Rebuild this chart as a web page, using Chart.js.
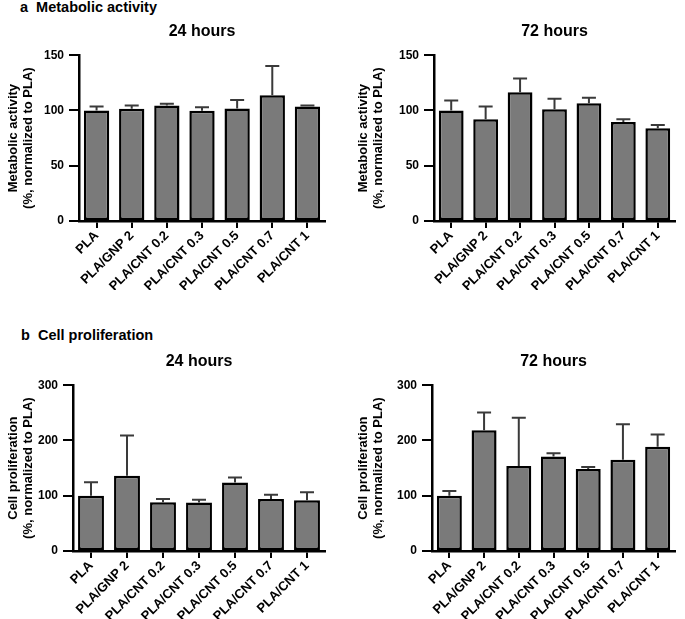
<!DOCTYPE html>
<html>
<head>
<meta charset="utf-8">
<script src="https://cdn.jsdelivr.net/npm/chart.js@4.4.1/dist/chart.umd.min.js"></script>
<style>
  body { margin: 0; background: #fff; font-family: "Liberation Sans", Arial, sans-serif; }
  #wrap { position: relative; width: 685px; height: 619px; }
  canvas { position: absolute; }
  .lbl { position: absolute; font-weight: bold; font-size: 14.5px; color: #000; white-space: pre; }
</style>
</head>
<body>
<div id="wrap">
  <div class="lbl" style="left:20px;top:-1px">a  Metabolic activity</div>
  <div class="lbl" style="left:21px;top:327px">b  Cell proliferation</div>
  <canvas id="c1" width="335" height="271" style="left:0;top:19px"></canvas>
  <canvas id="c2" width="335" height="271" style="left:350px;top:19px"></canvas>
  <canvas id="c3" width="335" height="271" style="left:0;top:349px"></canvas>
  <canvas id="c4" width="335" height="271" style="left:350px;top:349px"></canvas>
</div>
<script>
// groups
const groups = ['PLA', 'PLA/GNP 2', 'PLA/CNT 0.2', 'PLA/CNT 0.3', 'PLA/CNT 0.5', 'PLA/CNT 0.7', 'PLA/CNT 1']

// metabolic activity (% of PLA)
const meta24 = [100, 101.5, 104.5, 99.7, 101.8, 113.8, 103.6]
const meta24Err = [3.6, 3, 1.5, 3.3, 7.6, 26.5, 1]
const meta72 = [100, 92, 116.5, 101, 106.5, 89.5, 83.8]
const meta72Err = [9, 11.5, 12.5, 9.5, 5, 2.5, 3]

// cell proliferation (% of PLA)
const prol24 = [100, 136, 88, 87.6, 124, 94, 92]
const prol24Err = [24.5, 73, 6, 5, 9, 8, 14.5]
const prol72 = [100, 218.6, 154, 171, 148.5, 165, 188.6]
const prol72Err = [8.5, 32, 87, 6, 3.5, 64.5, 22]

const metaTicks = [0, 50, 100, 150]
const prolTicks = [0, 100, 200, 300]

Chart.defaults.font.family = '"Liberation Sans", Arial, sans-serif'
Chart.defaults.color = '#000'

// upper error bars, drawn from bar top
const errorBars = {
    id: 'errorBars',
    afterDatasetsDraw(chart) {
        const ctx = chart.ctx
        const ys = chart.scales.y
        const ds = chart.data.datasets[0]
        chart.getDatasetMeta(0).data.forEach((bar, i) => {
            const top = ys.getPixelForValue(ds.data[i] + ds.err[i])
            const base = ys.getPixelForValue(ds.data[i])
            ctx.save()
            ctx.strokeStyle = '#3a3a3a'
            ctx.lineWidth = 2
            ctx.beginPath()
            ctx.moveTo(bar.x, base)
            ctx.lineTo(bar.x, top)
            ctx.moveTo(bar.x - 7, top)
            ctx.lineTo(bar.x + 7, top)
            ctx.stroke()
            ctx.restore()
        })
    }
}

function makeChart(id, title, yTitle, values, err, ticks, yWidth) {
    const ctx = document.getElementById(id).getContext('2d')
    return new Chart(ctx, {
        type: 'bar',
        data: {
            labels: groups,
            datasets: [{
                data: values,
                err: err,
                backgroundColor: '#7a7a7a',
                borderColor: '#000',
                borderWidth: 2.5,
                borderSkipped: false,
                barPercentage: 0.72,
                categoryPercentage: 1
            }]
        },
        options: {
            responsive: false,
            animation: false,
            layout: { padding: { left: 0, right: 10, top: 0, bottom: 0 } },
            plugins: {
                legend: { display: false },
                tooltip: { enabled: false },
                title: {
                    display: true,
                    text: title,
                    fullSize: false,
                    font: { size: 16, weight: 'bold' },
                    padding: { top: 3, bottom: 14 }
                }
            },
            scales: {
                x: {
                    grid: { drawOnChartArea: false, offset: false, color: '#000', lineWidth: 2, tickLength: 7 },
                    border: { color: '#000', width: 2.5 },
                    ticks: { font: { size: 13, weight: 'bold' }, minRotation: 45, maxRotation: 45, padding: 0 },
                    afterFit: s => { s.height = 69 }
                },
                y: {
                    min: ticks[0],
                    max: ticks[ticks.length - 1],
                    afterBuildTicks: s => { s.ticks = ticks.map(v => ({ value: v })) },
                    grid: { drawOnChartArea: false, color: '#000', lineWidth: 2, tickLength: 10 },
                    border: { color: '#000', width: 2.5 },
                    ticks: { font: { size: 12, weight: 'bold' }, padding: 5 },
                    title: {
                        display: true,
                        text: yTitle,
                        font: { size: 13, weight: 'bold', lineHeight: 1.15 },
                        padding: { top: 6, bottom: 0 }
                    },
                    afterFit: s => { s.width = yWidth }
                }
            }
        },
        plugins: [errorBars]
    })
}

makeChart('c1', '24 hours', ['Metabolic activity', '(%, normalized to PLA)'], meta24, meta24Err, metaTicks, 79)
makeChart('c2', '72 hours', ['Metabolic activity', '(%, normalized to PLA)'], meta72, meta72Err, metaTicks, 84)
makeChart('c3', '24 hours', ['Cell proliferation', '(%, normalized to PLA)'], prol24, prol24Err, prolTicks, 73)
makeChart('c4', '72 hours', ['Cell proliferation', '(%, normalized to PLA)'], prol72, prol72Err, prolTicks, 82)
</script>
</body>
</html>
